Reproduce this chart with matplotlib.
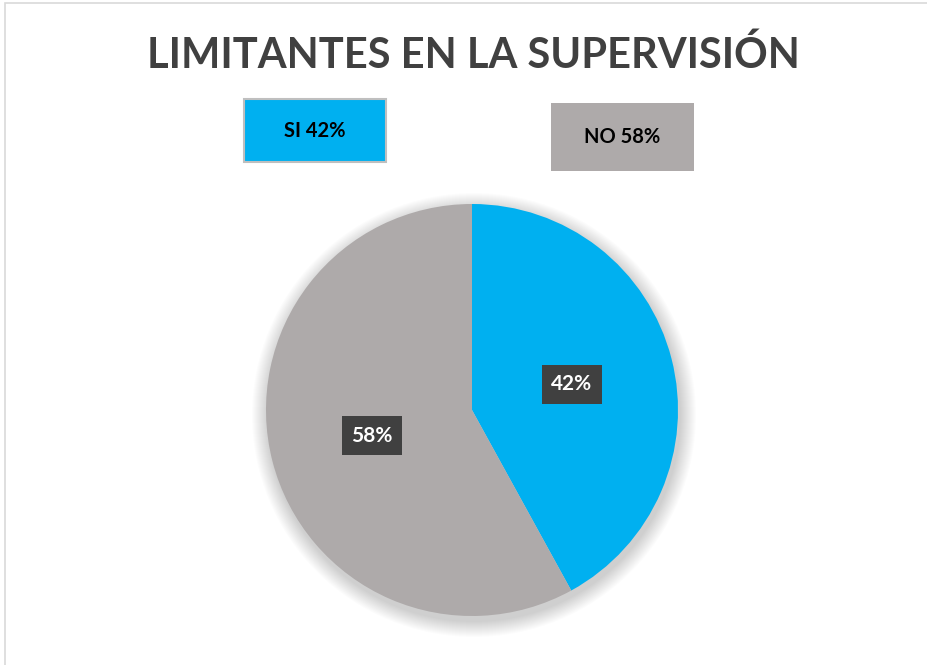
import matplotlib.pyplot as plt
from matplotlib.patches import Rectangle, Circle

# datos
categorias = ['SI', 'NO']
valores = [42, 58]
colores = ['#00B0F0', '#AEAAAA']
titulo = 'LIMITANTES EN LA SUPERVISIÓN'

plt.rcParams['font.family'] = ['Lato', 'DejaVu Sans']

W, H = 927, 665
fig = plt.figure(figsize=(W / 100, H / 100), dpi=100)
ax = fig.add_axes([0, 0, 1, 1])
ax.set_xlim(0, W)
ax.set_ylim(0, H)
ax.axis('off')

# marco del grafico
ax.add_patch(Rectangle((5, -10), W + 20, H - 3 + 10, fill=False,
                       edgecolor='#D9D9D9', lw=1.2))

cx, cy, r = 472, H - 410, 206

# sombra suave
for i in range(16):
    ax.add_patch(Circle((cx + 2, cy - 5), r + 16 - i, color='black',
                        alpha=0.013, lw=0, zorder=1))

wedges, texts, autotexts = ax.pie(
    valores, colors=colores, startangle=90, counterclock=False,
    center=(cx, cy), radius=r, autopct='%1.0f%%', pctdistance=0.5,
    wedgeprops=dict(linewidth=0, zorder=2),
    textprops=dict(color='white', fontsize=15, fontweight='bold'))
for t in autotexts:
    t.set_bbox(dict(boxstyle='square,pad=0.45', facecolor='#404040',
                    edgecolor='none'))
    t.set_zorder(5)
ax.set_xlim(0, W)
ax.set_ylim(0, H)
ax.set_aspect('auto')

# titulo
ax.text(473, H - 55, titulo, ha='center', va='center', fontsize=30,
        fontweight='bold', color='#404040')

# leyenda en cajas
ax.add_patch(Rectangle((244, H - 162), 142, 63, facecolor=colores[0],
                       edgecolor='#BFBFBF', lw=1.5))
ax.text(315, H - 131, '%s %d%%' % (categorias[0], valores[0]), ha='center',
        va='center', fontsize=14.5, fontweight='bold', color='black')
ax.add_patch(Rectangle((551, H - 171), 143, 68, facecolor=colores[1],
                       edgecolor='none'))
ax.text(622, H - 137, '%s %d%%' % (categorias[1], valores[1]), ha='center',
        va='center', fontsize=14.5, fontweight='bold', color='black')

fig.savefig('out.png', dpi=100)
